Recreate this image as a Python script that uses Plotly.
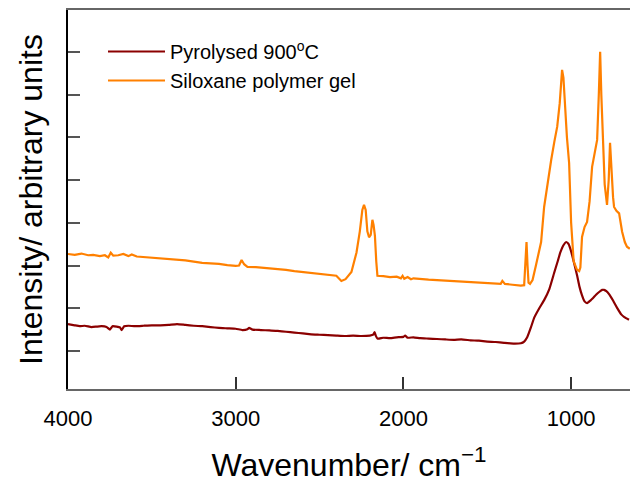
import plotly.graph_objects as go

# Siloxane polymer gel (orange) - wavenumber (cm^-1) and intensity (arb. units)
gel_wn = [4000, 3960, 3920, 3880, 3850, 3810, 3780, 3760, 3745, 3730, 3700, 3670, 3640, 3620, 3590,
          3550, 3500, 3450, 3400, 3350, 3300, 3250, 3200, 3150, 3100, 3050, 3000, 2980, 2965, 2950,
          2930, 2880, 2800, 2750, 2700, 2650, 2600, 2550, 2500, 2450, 2400, 2370, 2345, 2310, 2280,
          2260, 2245, 2235, 2225, 2215, 2205, 2195, 2185, 2178, 2170, 2162, 2155, 2120, 2080, 2040,
          2015, 2005, 1995, 1975, 1955, 1940, 1900, 1850, 1800, 1750, 1700, 1650, 1600, 1550, 1500,
          1450, 1420, 1410, 1395, 1350, 1300, 1280, 1272, 1266, 1260, 1254, 1245, 1230, 1210, 1190,
          1179, 1161, 1140, 1119, 1100, 1083, 1068, 1060, 1054, 1046, 1035, 1025, 1012, 1000, 985,
          965, 952, 945, 935, 920, 905, 890, 875, 860, 845, 835, 827, 820, 810, 800,
          786, 776, 768, 760, 750, 744, 730, 714, 696, 680, 667, 650]
gel_int = [3.27, 3.25, 3.28, 3.24, 3.25, 3.22, 3.24, 3.19, 3.30, 3.23, 3.24, 3.27, 3.22, 3.26, 3.21,
           3.20, 3.18, 3.17, 3.16, 3.14, 3.12, 3.09, 3.06, 3.05, 3.04, 3.01, 2.99, 3.00, 3.13, 3.03,
           2.97, 2.96, 2.94, 2.92, 2.90, 2.87, 2.85, 2.82, 2.80, 2.78, 2.76, 2.64, 2.68, 2.85, 3.30,
           3.80, 4.30, 4.42, 4.30, 3.80, 3.66, 3.72, 4.07, 3.95, 3.70, 3.10, 2.76, 2.75, 2.73, 2.74,
           2.70, 2.76, 2.69, 2.73, 2.68, 2.70, 2.68, 2.67, 2.66, 2.65, 2.63, 2.63, 2.62, 2.61, 2.60,
           2.59, 2.57, 2.64, 2.57, 2.55, 2.53, 2.54, 3.00, 3.55, 3.00, 2.60, 2.57, 2.66, 3.00, 3.40,
           3.55, 4.37, 4.95, 5.47, 5.90, 6.25, 6.80, 7.25, 7.58, 7.40, 6.60, 6.00, 5.40, 4.00, 3.10,
           2.90, 2.87, 2.95, 3.67, 3.90, 4.02, 4.50, 5.31, 5.60, 5.94, 7.00, 8.00, 7.00, 5.71, 4.90,
           4.42, 5.00, 5.87, 5.20, 4.60, 4.37, 4.28, 4.22, 3.79, 3.55, 3.44, 3.39]

# Pyrolysed 900 C (dark red)
pyr_wn = [4000, 3960, 3930, 3900, 3860, 3830, 3800, 3770, 3750, 3735, 3710, 3690, 3680, 3665, 3640,
          3600, 3550, 3500, 3450, 3400, 3350, 3300, 3250, 3200, 3150, 3100, 3050, 3000, 2960, 2930,
          2920, 2900, 2850, 2800, 2750, 2700, 2650, 2600, 2550, 2500, 2450, 2400, 2350, 2300, 2250,
          2200, 2180, 2172, 2165, 2155, 2120, 2080, 2040, 2000, 1990, 1975, 1940, 1900, 1850, 1800,
          1750, 1700, 1655, 1600, 1550, 1500, 1450, 1400, 1340, 1300, 1280, 1262, 1240, 1220, 1190,
          1161, 1130, 1101, 1080, 1065, 1045, 1030, 1015, 1000, 985, 964, 950, 935, 920, 905,
          885, 869, 850, 833, 815, 804, 790, 774, 750, 726, 700, 685, 655]
pyr_int = [1.63, 1.60, 1.58, 1.59, 1.56, 1.57, 1.58, 1.56, 1.50, 1.58, 1.57, 1.55, 1.49, 1.58, 1.59,
           1.58, 1.59, 1.60, 1.60, 1.61, 1.63, 1.61, 1.59, 1.58, 1.56, 1.54, 1.53, 1.52, 1.49, 1.51,
           1.54, 1.50, 1.49, 1.48, 1.47, 1.45, 1.43, 1.41, 1.39, 1.38, 1.37, 1.36, 1.35, 1.36, 1.35,
           1.36, 1.38, 1.44, 1.36, 1.29, 1.31, 1.30, 1.32, 1.33, 1.36, 1.31, 1.32, 1.30, 1.29, 1.28,
           1.27, 1.26, 1.27, 1.25, 1.24, 1.22, 1.21, 1.19, 1.17, 1.18, 1.22, 1.32, 1.55, 1.78, 2.00,
           2.19, 2.45, 2.83, 3.10, 3.30, 3.48, 3.55, 3.50, 3.33, 3.10, 2.76, 2.50, 2.30, 2.16, 2.12,
           2.18, 2.24, 2.32, 2.38, 2.43, 2.43, 2.40, 2.33, 2.18, 2.01, 1.85, 1.80, 1.73]

x_ticks = [1000, 2000, 3000, 4000]
x_ticklabels = ["1000", "2000", "3000", "4000"]
y_ticks = [1, 2, 3, 4, 5, 6, 7, 8]

FONT = "Liberation Sans, Arial, Helvetica, sans-serif"

fig = go.Figure()
fig.add_trace(go.Scatter(x=pyr_wn, y=pyr_int, mode="lines", name="Pyrolysed 900<sup>o</sup>C",
                         line=dict(color="#8B0000", width=2.2, shape="spline", smoothing=0.4)))
fig.add_trace(go.Scatter(x=gel_wn, y=gel_int, mode="lines", name="Siloxane polymer gel",
                         line=dict(color="#FF8000", width=2.2)))

fig.update_layout(
    width=630, height=486,
    margin=dict(l=68, r=0, t=10, b=97),
    paper_bgcolor="white", plot_bgcolor="white",
    font=dict(family=FONT, color="black"),
    showlegend=True,
    legend=dict(x=(103 - 68) / 562, y=1 - (32 - 10) / 379, xanchor="left", yanchor="top",
                font=dict(size=20, family=FONT, color="black"), bgcolor="rgba(0,0,0,0)",
                itemwidth=57, tracegroupgap=0),
    xaxis=dict(range=[4000, 649], tickvals=x_ticks, ticktext=x_ticklabels,
               ticks="inside", ticklen=12, tickcolor="#333", tickwidth=1.5,
               showline=True, linecolor="#666", linewidth=2, mirror=True,
               showgrid=False, zeroline=False,
               tickfont=dict(size=22, family=FONT, color="black"), ticklabelstandoff=9,
               title=dict(text="Wavenumber/ cm<sup>\u22121</sup>", font=dict(size=32, family=FONT, color="black"),
                          standoff=23)),
    yaxis=dict(range=[0.11, 8.98], tickvals=y_ticks, showticklabels=False,
               ticks="inside", ticklen=12, tickcolor="#555", tickwidth=1.5,
               showline=True, linecolor="black", linewidth=1.5,
               showgrid=False, zeroline=False,
               title=dict(text="Intensity/ arbitrary units", font=dict(size=32, family=FONT, color="black"),
                          standoff=14)),
)

fig.write_html("out.html")
